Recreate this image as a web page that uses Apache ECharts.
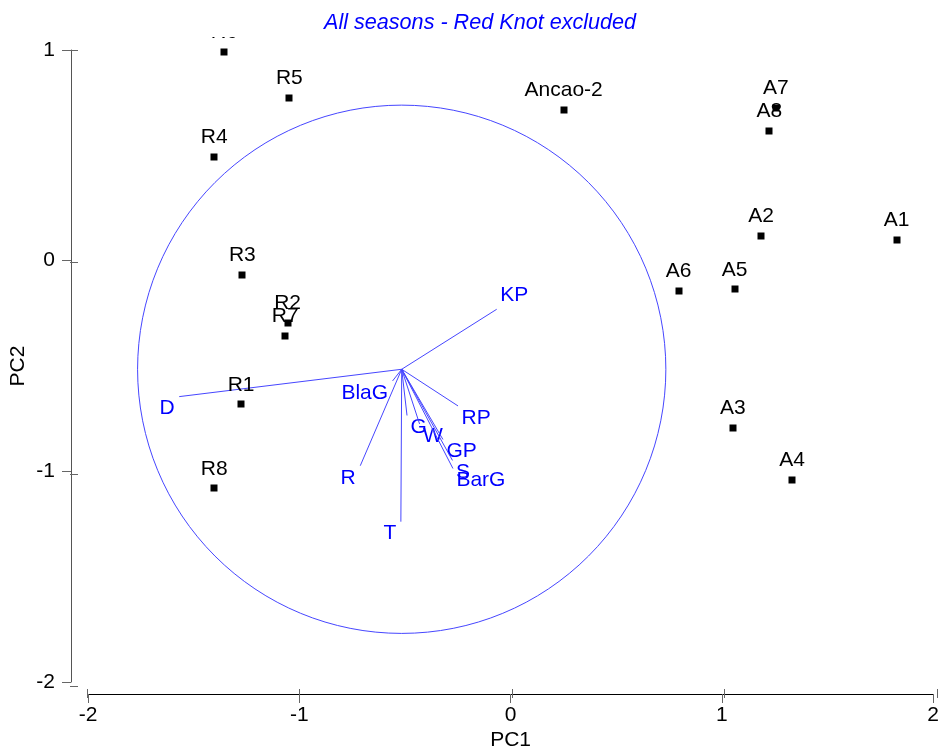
<!DOCTYPE html>
<html>
<head>
<meta charset="utf-8">
<script src="https://cdn.jsdelivr.net/npm/echarts@6/dist/echarts.min.js"></script>
<style>
  html, body { margin: 0; padding: 0; background: #fff; }
  #chart { width: 942px; height: 756px; }
</style>
</head>
<body>
<div id="chart"></div>
<script>
// Sample scores on the first two principal components
const siteNames = ['R6', 'R5', 'R4', 'R3', 'R2', 'R7', 'R1', 'R8', 'Ancao-2', 'A7', 'A8', 'A2', 'A1', 'A6', 'A5', 'A3', 'A4'];
const sitePC1 = [-1.354, -1.048, -1.401, -1.269, -1.056, -1.067, -1.275, -1.401, 0.243, 1.242, 1.211, 1.172, 1.810, 0.784, 1.048, 1.039, 1.318];
const sitePC2 = [0.992, 0.774, 0.495, -0.060, -0.286, -0.350, -0.671, -1.067, 0.717, 0.728, 0.618, 0.123, 0.104, -0.135, -0.129, -0.783, -1.028];

// Species / variable vectors, drawn from a common start point
const vectorStart = [-0.519, -0.506];
const varNames = ['D', 'KP', 'RP', 'R', 'T', 'BlaG', 'G', 'W', 'GP', 'S', 'BarG'];
const varPC1 = [-1.566, -0.072, -0.254, -0.714, -0.523, -0.562, -0.494, -0.435, -0.325, -0.280, -0.278];
const varPC2 = [-0.635, -0.223, -0.679, -0.961, -1.225, -0.561, -0.724, -0.764, -0.837, -0.936, -0.974];
const circleRadius = 1.243;

// Axis ticks
const xTicks = [-2, -1, 0, 1, 2];
const yTicks = [-2, -1, 0, 1];

const FONT = '"Liberation Sans", Arial, sans-serif';
const BLUE = '#0000ff';
const LINE_BLUE = '#4646ff';

const chart = echarts.init(document.getElementById('chart'), null, { renderer: 'canvas' });

const gridBox = { left: 87, right: 5, bottom: 70 };
const axisTop = 50;
const plotTop = 37;
const pxPerUnitY = (756 - gridBox.bottom - axisTop) / (yTicks[yTicks.length - 1] - yTicks[0]);
const plotYMax = yTicks[yTicks.length - 1] + (axisTop - plotTop) / pxPerUnitY;

const labelStyle = { fontFamily: FONT, fontSize: 21, color: '#000' };

const siteData = siteNames.map((n, i) => [sitePC1[i], sitePC2[i], n]);
const varData = varNames.map((n, i) => [varPC1[i], varPC2[i], n]);

const option = {
  animation: false,
  backgroundColor: '#fff',
  title: {
    text: 'All seasons - Red Knot excluded',
    left: 324,
    top: 12,
    padding: 0,
    textStyle: { fontFamily: FONT, fontSize: 21.6, fontStyle: 'italic', fontWeight: 'normal', color: BLUE }
  },
  grid: [
    { left: gridBox.left, right: gridBox.right, top: axisTop, bottom: gridBox.bottom },
    { left: gridBox.left, right: gridBox.right, top: axisTop, bottom: gridBox.bottom },
    { left: gridBox.left, right: gridBox.right, top: plotTop, bottom: gridBox.bottom }
  ],
  xAxis: [
    {
      gridIndex: 0, type: 'value', min: xTicks[0], max: xTicks[xTicks.length - 1], interval: 1,
      position: 'bottom', offset: 12,
      name: 'PC1', nameLocation: 'middle', nameGap: 36, nameMoveOverlap: false,
      nameTextStyle: labelStyle,
      axisLine: { show: true, onZero: false, lineStyle: { color: '#000', width: 1 } },
      axisTick: { show: true, inside: false, length: 9, lineStyle: { color: '#666' } },
      axisLabel: { show: true, margin: 11, ...labelStyle },
      splitLine: { show: false }
    },
    {
      gridIndex: 1, type: 'value', min: xTicks[0], max: xTicks[xTicks.length - 1], interval: 1,
      position: 'bottom', offset: 12,
      axisLine: { show: false, onZero: false },
      axisTick: { show: true, inside: true, length: 9, lineStyle: { color: '#666' } },
      axisLabel: { show: false },
      splitLine: { show: false }
    },
    {
      gridIndex: 2, type: 'value', min: xTicks[0], max: xTicks[xTicks.length - 1],
      show: false
    }
  ],
  yAxis: [
    {
      gridIndex: 0, type: 'value', min: yTicks[0], max: yTicks[yTicks.length - 1], interval: 1,
      position: 'left', offset: 17,
      name: 'PC2', nameLocation: 'middle', nameGap: 42, nameMoveOverlap: false,
      nameTextStyle: labelStyle,
      axisLine: { show: true, onZero: false, lineStyle: { color: '#555', width: 1 } },
      axisTick: { show: true, inside: false, length: 9, lineStyle: { color: '#666' } },
      axisLabel: { show: true, margin: 16, ...labelStyle },
      splitLine: { show: false }
    },
    {
      gridIndex: 1, type: 'value', min: yTicks[0], max: yTicks[yTicks.length - 1], interval: 1,
      position: 'left', offset: 17,
      axisLine: { show: false, onZero: false },
      axisTick: { show: true, inside: true, length: 8, lineStyle: { color: '#666' } },
      axisLabel: { show: false },
      splitLine: { show: false }
    },
    {
      gridIndex: 2, type: 'value', min: yTicks[0], max: plotYMax,
      show: false
    }
  ],
  series: [
    {
      // circle around the vector start point
      type: 'custom', xAxisIndex: 2, yAxisIndex: 2, clip: true, silent: true,
      data: [[vectorStart[0], vectorStart[1], circleRadius]],
      renderItem(params, api) {
        const c = api.coord([api.value(0), api.value(1)]);
        const r = api.size([api.value(2), 0])[0];
        return {
          type: 'circle',
          shape: { cx: c[0], cy: c[1], r: r },
          style: { fill: 'none', stroke: LINE_BLUE, lineWidth: 1 }
        };
      }
    },
    {
      // variable vectors with their names
      type: 'custom', xAxisIndex: 2, yAxisIndex: 2, clip: true, silent: true,
      data: varData,
      renderItem(params, api) {
        const s = api.coord(vectorStart);
        const e = api.coord([api.value(0), api.value(1)]);
        const name = varData[params.dataIndex][2];
        const goesLeft = e[0] < s[0];
        const goesDown = e[1] > s[1];
        return {
          type: 'group',
          children: [
            {
              type: 'line',
              shape: { x1: s[0], y1: s[1], x2: e[0], y2: e[1] },
              style: { stroke: LINE_BLUE, lineWidth: 1 }
            },
            {
              type: 'text',
              x: goesLeft ? e[0] - 4.5 : e[0] + 3.5,
              y: goesDown ? e[1] + 12 : e[1] - 14,
              style: {
                text: name, fill: BLUE, font: '21px ' + FONT,
                align: goesLeft ? 'right' : 'left', verticalAlign: 'middle'
              }
            }
          ]
        };
      }
    },
    {
      // sample points with labels
      type: 'custom', xAxisIndex: 2, yAxisIndex: 2, clip: true, silent: true,
      data: siteData,
      renderItem(params, api) {
        const p = api.coord([api.value(0), api.value(1)]);
        const name = siteData[params.dataIndex][2];
        return {
          type: 'group',
          children: [
            {
              type: 'rect',
              shape: { x: Math.round(p[0]) - 3.5, y: Math.round(p[1]) - 3.5, width: 7, height: 7 },
              style: { fill: '#000' }
            },
            {
              type: 'text',
              x: p[0], y: p[1] - 19.5,
              style: {
                text: name, fill: '#000', font: '21px ' + FONT,
                align: 'center', verticalAlign: 'middle'
              }
            }
          ]
        };
      }
    }
  ]
};

chart.setOption(option);
</script>
</body>
</html>
